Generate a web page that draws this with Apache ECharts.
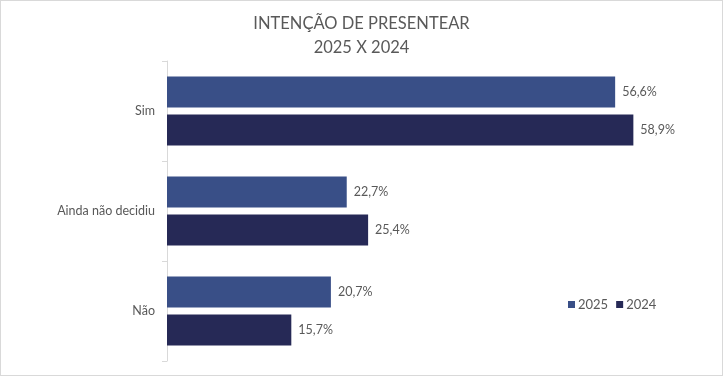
<!DOCTYPE html>
<html>
<head>
<meta charset="utf-8">
<script src="https://cdn.jsdelivr.net/npm/echarts@6/dist/echarts.min.js"></script>
<style>
html,body{margin:0;padding:0;background:#fff;}
#c{width:721px;height:374px;border:1px solid #d9d9d9;}
</style>
</head>
<body>
<div id="c"></div>
<script>
const categories = ['Sim', 'Ainda não decidiu', 'Não'];
const values2025 = [56.6, 22.7, 20.7];
const values2024 = [58.9, 25.4, 15.7];
const seriesNames = ['2025', '2024'];
const titleLines = ['INTENÇÃO DE PRESENTEAR', '2025 X 2024'];

const chart = echarts.init(document.getElementById('c'));
const fontFamily = 'Lato, "Open Sans", sans-serif';
const labelCfg = {
  show: true, position: 'right', distance: 7,
  color: '#595959', fontSize: 12.5, fontFamily,
  formatter: p => p.value.toFixed(1).replace('.', ',') + '%'
};
chart.setOption({
  animation: false,
  title: {
    text: titleLines.join('\n'),
    left: 'center', top: 6,
    textStyle: { color: '#595959', fontSize: 16.5, fontWeight: 'normal', fontFamily, lineHeight: 24 }
  },
  legend: {
    data: seriesNames,
    left: 562, top: 292,
    itemWidth: 7, itemHeight: 7, itemGap: 8,
    icon: 'rect',
    textStyle: { color: '#595959', fontSize: 13, fontFamily, padding: [0, 0, 0, -2] }
  },
  grid: { left: 166, top: 60, width: 540, height: 300, containLabel: false },
  xAxis: {
    type: 'value', min: 0, max: 68.2,
    show: false
  },
  yAxis: {
    type: 'category', data: categories, inverse: true,
    axisLine: { show: true, lineStyle: { color: '#d9d9d9' } },
    axisTick: { show: true, length: 5, lineStyle: { color: '#d9d9d9' } },
    axisLabel: { color: '#595959', fontSize: 12.5, fontFamily, margin: 12 }
  },
  series: [
    { name: seriesNames[0], type: 'bar', data: values2025, barWidth: 31, barGap: '22%',
      itemStyle: { color: '#394f87' }, label: labelCfg },
    { name: seriesNames[1], type: 'bar', data: values2024, barWidth: 31, barGap: '22%',
      itemStyle: { color: '#262956' }, label: labelCfg }
  ]
});
</script>
</body>
</html>
